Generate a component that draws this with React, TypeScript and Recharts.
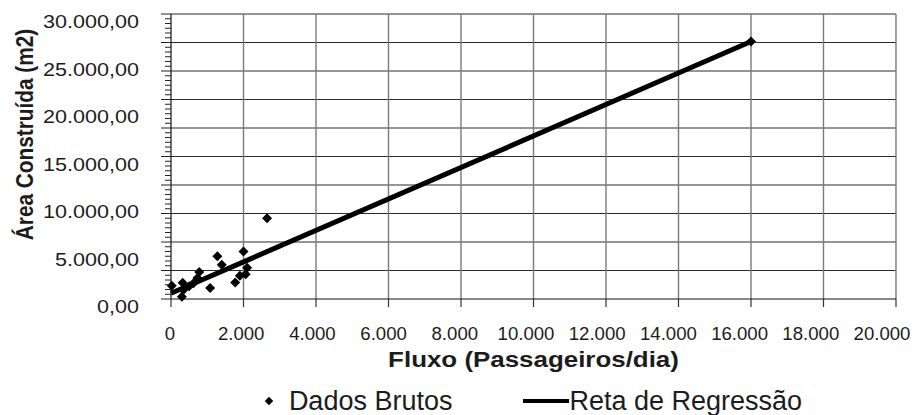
import React from 'react';
import { ComposedChart, Scatter, Line, XAxis, YAxis, ReferenceLine, Legend } from 'recharts';

// Observed passenger flow (passengers/day) and built area (m2)
const fluxo = [20, 300, 320, 340, 500, 620, 730, 780, 1080, 1280, 1400, 1770, 1900, 2000, 2060, 2100, 2650, 16000];
const areaConstruida = [1400, 250, 1700, 950, 1350, 1650, 2200, 2850, 1150, 4500, 3600, 1750, 2450, 5000, 2600, 3300, 8500, 27100];

// Fitted regression line end points
const retaFluxo = [0, 16000];
const retaArea = [600, 27100];

// Axis ticks
const xTicks = [0, 2000, 4000, 6000, 8000, 10000, 12000, 14000, 16000, 18000, 20000];
const xMax = 20000;
const yGridValues = [3000, 6000, 9000, 12000, 15000, 18000, 21000, 24000, 27000, 30000];
const yLabelValues = [0, 5000, 10000, 15000, 20000, 25000, 30000];
const yMinorStep = 500;
const yMax = 30000;
const yTickValues = Array.from({ length: yMax / yMinorStep + 1 }, (_, i) => i * yMinorStep);

const dadosBrutos = fluxo.map((x, i) => ({ x, y: areaConstruida[i] }));
const retaRegressao = retaFluxo.map((x, i) => ({ x, y: retaArea[i] }));

const FONT = '"Liberation Sans", Arial, Helvetica, sans-serif';
const TEXT = '#1c1c1c';

const thousands = (v: number) => String(Math.round(v)).replace(/\B(?=(\d{3})+(?!\d))/g, '.');
const fmtX = (v: number) => thousands(v);
const fmtY = (v: number) => `${thousands(v)},00`;

const YTick = (props: any) => {
  const { x, y, payload } = props;
  const v = payload.value as number;
  const major = v % 3000 === 0;
  const labelled = yLabelValues.includes(v);
  return (
    <g>
      <line x1={x - (major ? 10 : 6)} x2={x} y1={y} y2={y} stroke="#222" strokeWidth={1} />
      {labelled && (
        <text
          transform={`translate(${x - 32},${y + 14.2}) scale(1.16,1)`}
          textAnchor="end"
          fontFamily={FONT}
          fontSize={18.6}
          fill={TEXT}
        >
          {fmtY(v)}
        </text>
      )}
    </g>
  );
};

// tick labels sit slightly inward, drifting left toward the right end of the axis
const XTick = (props: any) => {
  const { x, y, payload } = props;
  const shift = -1 - 13 * (payload.value / xMax);
  return (
    <text x={x + shift} y={y + 32.6} textAnchor="middle" fontFamily={FONT} fontSize={18.6} fill={TEXT}>
      {fmtX(payload.value)}
    </text>
  );
};

const XTitle = (props: any) => {
  const vb = props.viewBox;
  const cx = vb.x + vb.width / 2;
  return (
    <text
      transform={`translate(${cx},${vb.y + 68.3}) scale(1.2,1)`}
      textAnchor="middle"
      fontFamily={FONT}
      fontWeight="bold"
      fontSize={21.6}
      fill={TEXT}
    >
      Fluxo (Passageiros/dia)
    </text>
  );
};

const YTitle = (props: any) => {
  const vb = props.viewBox;
  return (
    <text
      transform={`translate(${vb.x + 33},${vb.y + 120.5}) scale(1.16,1) rotate(-90)`}
      textAnchor="middle"
      fontFamily={FONT}
      fontWeight="bold"
      fontSize={20.8}
      fill={TEXT}
    >
      Área Construída (m2)
    </text>
  );
};

const DiamondDot = (props: any) => {
  const { cx, cy } = props;
  const r = 5;
  return <polygon points={`${cx},${cy - r} ${cx + r},${cy} ${cx},${cy + r} ${cx - r},${cy}`} fill="#000" />;
};

const renderLegend = (props: any) => {
  const payload = props.payload || [];
  return (
    <div
      style={{
        display: 'flex',
        justifyContent: 'center',
        alignItems: 'center',
        fontFamily: FONT,
        fontSize: 27,
        lineHeight: '32px',
        color: TEXT,
        whiteSpace: 'nowrap',
      }}
    >
      {payload.map((entry: any, i: number) => (
        <div key={i} style={{ display: 'flex', alignItems: 'center', marginLeft: i === 0 ? 0 : 71 }}>
          {entry.type === 'line' ? (
            <span style={{ display: 'inline-block', width: 46, height: 4, background: '#000' }} />
          ) : (
            <span
              style={{
                display: 'inline-block',
                width: 6,
                height: 6,
                background: '#000',
                transform: 'rotate(45deg)',
                marginLeft: 1,
                marginRight: 17,
              }}
            />
          )}
          <span>{entry.value}</span>
        </div>
      ))}
    </div>
  );
};

export default function App() {
  return (
    <div style={{ position: 'absolute', left: 0, top: 0, width: 916, height: 415, background: '#fff' }}>
      <ComposedChart width={916} height={415} margin={{ top: 14, right: 20, left: 0, bottom: 0 }}>
        <XAxis
          dataKey="x"
          type="number"
          domain={[0, xMax]}
          ticks={xTicks}
          interval={0}
          tickSize={8}
          tickMargin={0}
          height={116}
          axisLine={{ stroke: '#111', strokeWidth: 1.2 }}
          tickLine={{ stroke: '#333', strokeWidth: 1.2 }}
          tick={<XTick />}
          label={{ content: <XTitle /> }}
        />
        <YAxis
          dataKey="y"
          type="number"
          domain={[0, yMax]}
          ticks={yTickValues}
          interval={0}
          tickSize={0}
          tickMargin={0}
          width={171}
          axisLine={{ stroke: '#111', strokeWidth: 1.2 }}
          tickLine={false}
          tick={<YTick />}
          label={{ content: <YTitle /> }}
        />
        {yGridValues.map((v) => (
          <ReferenceLine key={`h${v}`} y={v} stroke="#2a2a2a" strokeWidth={1.2} />
        ))}
        {xTicks.filter((v) => v > 0).map((v) => (
          <ReferenceLine key={`v${v}`} x={v} stroke="#7a7a7a" strokeWidth={1.4} />
        ))}
        <Scatter
          name="Dados Brutos"
          data={dadosBrutos}
          fill="#000"
          legendType="diamond"
          shape={<DiamondDot />}
          isAnimationActive={false}
        />
        <Line
          name="Reta de Regressão"
          data={retaRegressao}
          dataKey="y"
          type="linear"
          stroke="#000"
          strokeWidth={5}
          dot={false}
          activeDot={false}
          legendType="line"
          isAnimationActive={false}
        />
        <Legend
          verticalAlign="middle"
          align="center"
          layout="horizontal"
          wrapperStyle={{ top: 385, left: 171, width: 725 }}
          content={renderLegend}
        />
      </ComposedChart>
    </div>
  );
}
